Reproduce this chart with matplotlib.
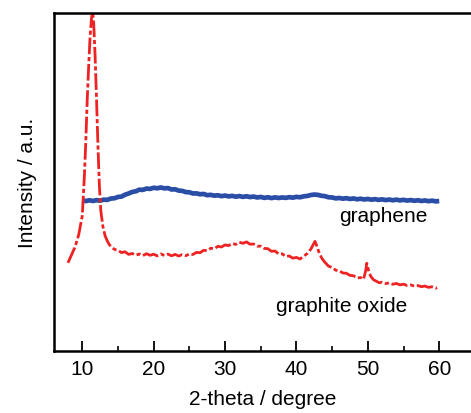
import matplotlib
matplotlib.use("Agg")
import matplotlib.pyplot as plt
from matplotlib.ticker import MultipleLocator

plt.rcParams["font.family"] = ["Liberation Sans", "DejaVu Sans"]

# graphene trace (2-theta, intensity in arbitrary units)
graphene_x = [10.0, 10.5, 11.0, 11.5, 12.0, 12.5, 13.0, 13.5, 14.0, 14.5,
              15.0, 15.5, 16.0, 16.5, 17.0, 17.5, 18.0, 18.5, 19.0, 19.5,
              20.0, 20.5, 21.0, 21.5, 22.0, 22.5, 23.0, 23.5, 24.0, 24.5,
              25.0, 25.5, 26.0, 26.5, 27.0, 27.5, 28.0, 28.5, 29.0, 29.5,
              30.0, 30.5, 31.0, 31.5, 32.0, 32.5, 33.0, 33.5, 34.0, 34.5,
              35.0, 35.5, 36.0, 36.5, 37.0, 37.5, 38.0, 38.5, 39.0, 39.5,
              40.0, 40.5, 41.0, 41.5, 42.0, 42.5, 43.0, 43.5, 44.0, 44.5,
              45.0, 45.5, 46.0, 46.5, 47.0, 47.5, 48.0, 48.5, 49.0, 49.5,
              50.0, 50.5, 51.0, 51.5, 52.0, 52.5, 53.0, 53.5, 54.0, 54.5,
              55.0, 55.5, 56.0, 56.5, 57.0, 57.5, 58.0, 58.5, 59.0, 59.5,
              60.0]
graphene_y = [150.5, 149.8, 150.6, 149.9, 150.7, 150.2, 151.2, 151.0, 152.3, 152.6,
              153.9, 154.3, 156.2, 157.4, 158.9, 159.6, 161.2, 161.0, 162.3, 162.0,
              163.1, 162.6, 163.4, 162.5, 162.8, 161.4, 161.6, 160.3, 160.0, 158.8,
              158.6, 157.4, 157.5, 156.6, 156.9, 155.7, 156.0, 155.2, 155.6, 154.7,
              155.3, 154.5, 155.0, 154.2, 154.8, 154.0, 154.6, 153.8, 154.3, 153.4,
              153.9, 153.0, 153.6, 152.8, 153.5, 152.9, 153.4, 153.0, 153.7, 153.2,
              154.0, 153.6, 154.5, 154.9, 155.8, 156.3, 156.0, 155.1, 154.7, 153.6,
              153.4, 152.5, 152.9, 152.2, 152.7, 151.9, 152.4, 151.6, 152.1, 151.4,
              151.9, 151.2, 151.7, 151.0, 151.5, 150.8, 151.3, 150.6, 151.2, 150.5,
              151.0, 150.3, 150.8, 150.1, 150.6, 149.9, 150.4, 149.7, 150.2, 149.5,
              149.8]

# graphite oxide trace
go_x = [8.0, 8.5, 9.0, 9.5, 10.0, 10.3, 10.5, 10.7, 10.9, 11.1,
        11.3, 11.45, 11.6, 11.8, 12.0, 12.2, 12.4, 12.6, 12.9, 13.2,
        13.5, 13.8, 14.1, 14.4, 14.7, 15.0, 15.5, 16.0, 16.5, 17.0,
        17.5, 18.0, 18.5, 19.0, 19.5, 20.0, 20.5, 21.0, 21.5, 22.0,
        22.5, 23.0, 23.5, 24.0, 24.5, 25.0, 25.5, 26.0, 26.5, 27.0,
        27.5, 28.0, 28.5, 29.0, 29.5, 30.0, 30.5, 31.0, 31.5, 32.0,
        32.5, 33.0, 33.5, 34.0, 34.5, 35.0, 35.5, 36.0, 36.5, 37.0,
        37.5, 38.0, 38.5, 39.0, 39.5, 40.0, 40.5, 41.0, 41.5, 42.0,
        42.3, 42.6, 42.9, 43.2, 43.6, 44.0, 44.5, 45.0, 45.5, 46.0,
        46.5, 47.0, 47.5, 48.0, 48.5, 49.0, 49.4, 49.7, 49.85, 50.1,
        50.4, 50.8, 51.2, 51.6, 52.0, 52.5, 53.0, 53.5, 54.0, 54.5,
        55.0, 55.5, 56.0, 56.5, 57.0, 57.5, 58.0, 58.5, 59.0, 59.5,
        59.7]
go_y = [88, 96, 104, 116, 135, 175, 210, 252, 285, 315,
        333, 340, 328, 295, 252, 205, 165, 140, 124, 115,
        110, 106, 104, 102, 101, 100.5, 98.2, 99.0, 96.4, 97.3,
        95.6, 96.8, 95.2, 97.1, 95.5, 96.6, 94.9, 96.9, 95.3, 96.7,
        95.0, 96.4, 94.8, 96.2, 95.1, 96.8, 96.3, 98.4, 98.1, 100.5,
        100.2, 102.6, 102.1, 104.5, 103.8, 105.9, 105.2, 107.3, 106.4, 108.6,
        107.5, 108.9, 106.6, 106.8, 104.7, 104.6, 102.4, 102.1, 99.5, 99.8,
        96.9, 97.0, 94.4, 94.8, 92.6, 93.4, 91.8, 94.5, 97.2, 101.5,
        105.5, 109.5, 104.0, 97.5, 92.0, 88.4, 84.6, 83.3, 80.6, 80.0,
        77.8, 77.5, 75.4, 75.0, 72.8, 73.2, 71.6, 80.0, 87.5, 80.5,
        74.5, 71.0, 69.5, 68.0, 68.6, 67.2, 67.9, 66.5, 67.3, 65.9,
        66.6, 65.3, 65.9, 64.6, 65.2, 64.1, 64.7, 63.4, 64.0, 62.6,
        63.2]

fig = plt.figure(figsize=(4.71, 4.14), dpi=100)
ax = fig.add_axes([0.114, 0.1505, 0.886, 0.8155])

ax.plot(graphene_x, graphene_y, color="#2a4ea6", lw=3.4, solid_capstyle="butt")
ax.plot(go_x, go_y, color="#ee2222", lw=2.0, linestyle=(0, (6, 1.0, 1.5, 1.0)))

ax.text(52.1, 135, "graphene", fontsize=15, ha="center", va="center")
ax.text(46.3, 45, "graphite oxide", fontsize=15, ha="center", va="center")

ax.set_xlim(6, 64.45)
ax.set_ylim(0, 338)
ax.xaxis.set_major_locator(MultipleLocator(10))
ax.xaxis.set_minor_locator(MultipleLocator(5))
ax.set_yticks([])
ax.tick_params(axis="x", which="major", direction="in", length=7, width=1.3,
               labelsize=15, pad=6)
ax.tick_params(axis="x", which="minor", direction="in", length=3.5, width=1.2)
for side in ["left", "bottom", "top"]:
    ax.spines[side].set_linewidth(1.8)
ax.spines["right"].set_visible(False)

ax.set_xlabel("2-theta / degree", fontsize=15, labelpad=8)
ax.set_ylabel("Intensity / a.u.", fontsize=15, labelpad=12)

fig.savefig("out.png", dpi=100)
